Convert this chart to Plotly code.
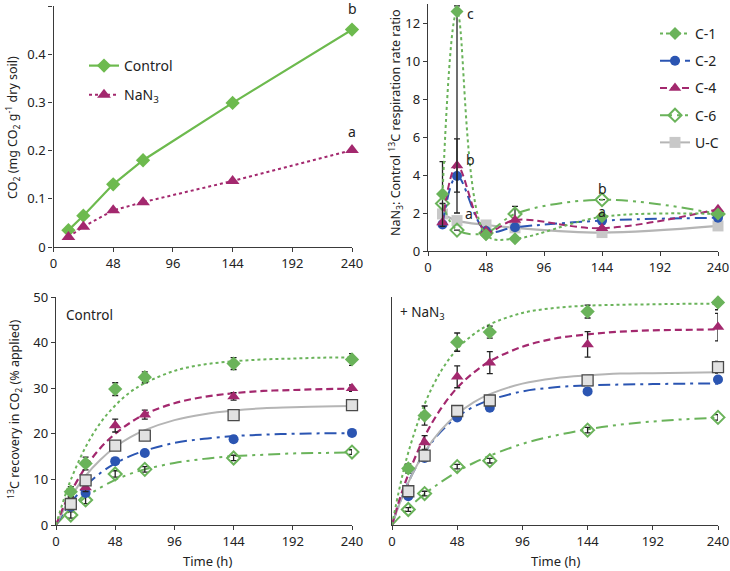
import plotly.graph_objects as go

# ---------------- data ----------------
t = [12, 24, 48, 72, 144, 240]

# top-left: cumulative CO2 (mg CO2 g-1 dry soil)
co2_control = [0.035, 0.065, 0.130, 0.180, 0.299, 0.451]
co2_nan3 = [0.021, 0.042, 0.076, 0.093, 0.137, 0.201]

# top-right: NaN3 : Control 13C respiration rate ratio
ratio_c1 = [3.0, 12.6, 0.85, 0.65, 1.8, 1.95]
ratio_c2 = [1.4, 3.95, 1.05, 1.25, 1.6, 1.75]
ratio_c4 = [1.5, 4.5, 1.05, 1.63, 1.2, 2.2]
ratio_c6 = [2.5, 1.1, 0.95, 1.95, 2.7, 1.95]
ratio_uc = [1.95, 1.6, 1.37, 1.22, 0.97, 1.32]
ratio_c1_err_plus = [1.7, 0.3, 0, 0, 0, 0]
ratio_c1_err_minus = [1.7, 10.6, 0, 0, 0, 0]
ratio_c4_err = [0, 1.4, 0, 0, 0, 0]
ratio_c6_err = [0, 0, 0, 0.4, 0, 0]

# bottom-left: 13C recovery in CO2, Control
ctl_c1 = [7.3, 13.5, 29.8, 32.4, 35.4, 36.3]
ctl_c2 = [4.0, 7.0, 14.0, 15.8, 18.8, 20.2]
ctl_c4 = [5.5, 8.2, 21.8, 24.2, 28.2, 30.0]
ctl_c6 = [2.2, 5.5, 11.2, 12.2, 14.7, 16.0]
ctl_uc = [4.6, 9.8, 17.4, 19.6, 24.1, 26.3]
ctl_c1_err = [1.1, 1.4, 1.4, 1.2, 1.3, 1.3]
ctl_c2_err = [0.5, 0.6, 0.5, 0.5, 0.6, 0.6]
ctl_c4_err = [0.6, 0.9, 1.4, 1.0, 0.8, 0.7]
ctl_c6_err = [0.7, 0.8, 0.7, 0.6, 0.6, 0.5]
ctl_uc_err = [0.5, 0.6, 0.6, 0.6, 0.6, 0.6]

# bottom-right: 13C recovery in CO2, + NaN3
nan_c1 = [12.4, 24.0, 40.1, 42.3, 46.8, 48.8]
nan_c2 = [6.3, 14.7, 23.6, 25.7, 29.3, 31.9]
nan_c4 = [7.8, 18.1, 32.5, 35.6, 39.6, 43.4]
nan_c6 = [3.4, 6.9, 12.8, 14.1, 20.8, 23.6]
nan_uc = [7.4, 15.2, 25.0, 27.3, 31.7, 34.6]
nan_c1_err = [1.0, 2.1, 2.0, 1.3, 1.4, 1.6]
nan_c2_err = [0.5, 0.6, 0.6, 0.6, 0.5, 0.6]
nan_c4_err = [0.8, 1.5, 2.4, 2.4, 2.8, 3.0]
nan_c6_err = [0.4, 0.5, 0.5, 0.5, 0.6, 0.6]
nan_uc_err = [0.6, 0.8, 1.0, 0.9, 0.9, 1.3]

# fitted curves
tf = [0, 6, 12, 24, 36, 48, 60, 72, 96, 120, 144, 168, 192, 216, 240]
fit_ctl_c1 = [0, 5.3, 9.9, 17.1, 22.4, 26.2, 29.1, 31.1, 33.8, 35.2, 35.9, 36.3, 36.5, 36.7, 36.7]
fit_ctl_c4 = [0, 3.9, 7.2, 12.7, 16.9, 20.0, 22.4, 24.3, 26.7, 28.1, 28.9, 29.4, 29.6, 29.8, 29.9]
fit_ctl_uc = [0, 3.2, 6.1, 10.8, 14.3, 17.1, 19.2, 20.8, 23.0, 24.3, 25.1, 25.6, 25.8, 26.0, 26.1]
fit_ctl_c2 = [0, 2.6, 4.9, 8.6, 11.4, 13.5, 15.1, 16.3, 18.0, 18.9, 19.5, 19.8, 20.0, 20.1, 20.1]
fit_ctl_c6 = [0, 1.8, 3.4, 6.1, 8.2, 9.9, 11.2, 12.2, 13.6, 14.5, 15.1, 15.4, 15.7, 15.8, 15.9]
fit_nan_c1 = [0, 8.7, 15.9, 26.5, 33.7, 38.6, 41.8, 44.0, 46.5, 47.6, 48.1, 48.3, 48.4, 48.5, 48.5]
fit_nan_c4 = [0, 6.0, 11.1, 19.4, 25.5, 30.1, 33.4, 35.9, 39.1, 40.9, 41.8, 42.4, 42.7, 42.8, 42.9]
fit_nan_uc = [0, 5.0, 9.3, 16.0, 20.8, 24.3, 26.9, 28.7, 31.0, 32.2, 32.8, 33.2, 33.3, 33.4, 33.5]
fit_nan_c2 = [0, 5.1, 9.4, 15.9, 20.5, 23.7, 25.9, 27.4, 29.3, 30.2, 30.6, 30.8, 30.9, 31.0, 31.0]
fit_nan_c6 = [0, 1.9, 3.7, 6.8, 9.4, 11.7, 13.6, 15.2, 17.8, 19.6, 21.0, 22.0, 22.7, 23.2, 23.5]

xticks = [0, 48, 96, 144, 192, 240]

# ---------------- styles ----------------
GREEN = "#6AB35A"
GREEN_TL = "#6DBA4E"
BLUE = "#2B55B2"
MAGENTA = "#A3286E"
GRAY = "#B5B5B5"
AXC = "#3a3a3a"
FONT = "Noto Sans"

DASH_C1 = "dot"
DASH_C2 = "12px,5px,3px,5px"
DASH_C4 = "7px,4px"
DASH_C6 = "12px,5px,3px,5px,3px,5px"

fig = go.Figure()

# ---- top-left ----
fig.add_trace(go.Scatter(
    x=t, y=co2_control, name="Control", mode="lines+markers",
    line=dict(color=GREEN_TL, width=2.2),
    marker=dict(symbol="diamond", size=11, color=GREEN_TL),
    xaxis="x", yaxis="y", legend="legend", legendgroup="a", cliponaxis=False))
fig.add_trace(go.Scatter(
    x=t, y=co2_nan3, name="NaN<sub>3</sub>", mode="lines+markers",
    line=dict(color=MAGENTA, width=2, dash="dot"),
    marker=dict(symbol="triangle-up", size=12, color=MAGENTA),
    xaxis="x", yaxis="y", legend="legend", legendgroup="b", cliponaxis=False))

# ---- top-right ----
def err(a, am=None):
    d = dict(type="data", array=a, visible=True, color="#222", thickness=1.3, width=3)
    if am is not None:
        d["arrayminus"] = am
        d["symmetric"] = False
    return d

fig.add_trace(go.Scatter(
    x=t, y=ratio_uc, name="U-C", mode="lines+markers", line_shape="spline",
    line=dict(color=GRAY, width=2.2),
    marker=dict(symbol="square", size=11, color="#C8C8C8"),
    xaxis="x2", yaxis="y2", showlegend=False, cliponaxis=False))
fig.add_trace(go.Scatter(
    x=t, y=ratio_c6, name="C-6", mode="lines+markers", line_shape="spline",
    line=dict(color=GREEN, width=2, dash=DASH_C6),
    marker=dict(symbol="diamond-open", size=10, color=GREEN, line=dict(width=2)),
    error_y=err(ratio_c6_err),
    xaxis="x2", yaxis="y2", showlegend=False, cliponaxis=False))
fig.add_trace(go.Scatter(
    x=t, y=ratio_c2, name="C-2", mode="lines+markers", line_shape="spline",
    line=dict(color=BLUE, width=2, dash=DASH_C2),
    marker=dict(symbol="circle", size=10, color=BLUE),
    xaxis="x2", yaxis="y2", showlegend=False, cliponaxis=False))
fig.add_trace(go.Scatter(
    x=t, y=ratio_c4, name="C-4", mode="lines+markers", line_shape="spline",
    line=dict(color=MAGENTA, width=2, dash=DASH_C4),
    marker=dict(symbol="triangle-up", size=11, color=MAGENTA),
    error_y=err(ratio_c4_err),
    xaxis="x2", yaxis="y2", showlegend=False, cliponaxis=False))
fig.add_trace(go.Scatter(
    x=t, y=ratio_c1, name="C-1", mode="lines+markers", line_shape="spline",
    line=dict(color=GREEN, width=2, dash=DASH_C1),
    marker=dict(symbol="diamond", size=10, color=GREEN),
    error_y=err(ratio_c1_err_plus, ratio_c1_err_minus),
    xaxis="x2", yaxis="y2", showlegend=False, cliponaxis=False))

# legend entries for the top-right panel (same styles, in legend order)
leg_items = [
    ("C-1", GREEN, DASH_C1, dict(symbol="diamond", size=10, color=GREEN)),
    ("C-2", BLUE, DASH_C2, dict(symbol="circle", size=10, color=BLUE)),
    ("C-4", MAGENTA, DASH_C4, dict(symbol="triangle-up", size=11, color=MAGENTA)),
    ("C-6", GREEN, DASH_C6, dict(symbol="diamond-open", size=10, color=GREEN, line=dict(width=2))),
    ("U-C", GRAY, "solid", dict(symbol="square", size=11, color="#C8C8C8")),
]
for i, (nm, col, dsh, mk) in enumerate(leg_items):
    fig.add_trace(go.Scatter(
        x=[None], y=[None], name=nm, mode="lines+markers",
        line=dict(color=col, width=2, dash=dsh), marker=mk,
        xaxis="x2", yaxis="y2", legend="legend2", legendgroup="g%d" % i))

# ---- bottom panels ----
def recovery(xa, ya, fits, pts):
    for fy, col, dsh, w in fits:
        fig.add_trace(go.Scatter(
            x=tf, y=fy, mode="lines", line_shape="spline",
            line=dict(color=col, width=w, dash=dsh),
            xaxis=xa, yaxis=ya, showlegend=False, hoverinfo="skip"))
    for py, pe, mk in pts:
        fig.add_trace(go.Scatter(
            x=t, y=py, mode="markers", marker=mk, error_y=err(pe),
            xaxis=xa, yaxis=ya, showlegend=False, cliponaxis=False))

mk_c1 = dict(symbol="diamond", size=11, color=GREEN)
mk_c2 = dict(symbol="circle", size=10, color=BLUE)
mk_c4 = dict(symbol="triangle-up", size=11, color=MAGENTA)
mk_c6 = dict(symbol="diamond-open", size=10, color=GREEN, line=dict(width=2))
mk_uc = dict(symbol="square", size=11, color="#E2E2E2", line=dict(color="#4a4a4a", width=1.3))

recovery("x3", "y3",
         [(fit_ctl_c6, GREEN, DASH_C6, 2), (fit_ctl_c2, BLUE, DASH_C2, 2),
          (fit_ctl_uc, GRAY, "solid", 2), (fit_ctl_c4, MAGENTA, DASH_C4, 2.2),
          (fit_ctl_c1, GREEN, DASH_C1, 2)],
         [(ctl_c6, ctl_c6_err, mk_c6), (ctl_c2, ctl_c2_err, mk_c2),
          (ctl_c4, ctl_c4_err, mk_c4), (ctl_c1, ctl_c1_err, mk_c1),
          (ctl_uc, ctl_uc_err, mk_uc)])
recovery("x4", "y4",
         [(fit_nan_c6, GREEN, DASH_C6, 2), (fit_nan_c2, BLUE, DASH_C2, 2),
          (fit_nan_uc, GRAY, "solid", 2), (fit_nan_c4, MAGENTA, DASH_C4, 2.2),
          (fit_nan_c1, GREEN, DASH_C1, 2)],
         [(nan_c6, nan_c6_err, mk_c6), (nan_c2, nan_c2_err, mk_c2),
          (nan_c4, nan_c4_err, mk_c4), (nan_c1, nan_c1_err, mk_c1),
          (nan_uc, nan_uc_err, mk_uc)])

# ---------------- layout ----------------
W, H = 730, 571

def px_x(a, b):
    return [a / W, b / W]

def px_y(top, bottom):
    return [1 - bottom / H, 1 - top / H]

axbase = dict(showline=True, linecolor=AXC, linewidth=1.4, ticks="outside",
              ticklen=4, tickcolor=AXC, tickwidth=1.2, showgrid=False,
              zeroline=False, tickfont=dict(size=13, color="#222", family=FONT),
              automargin=False)

fig.update_layout(
    width=W, height=H, margin=dict(l=0, r=0, t=0, b=0),
    paper_bgcolor="white", plot_bgcolor="white",
    font=dict(family=FONT, size=13, color="#222"),
    xaxis=dict(axbase, domain=px_x(53.5, 352), range=[0, 240], tickvals=xticks, anchor="y"),
    yaxis=dict(axbase, domain=px_y(6, 247), range=[0, 0.5], dtick=0.1, anchor="x"),
    xaxis2=dict(axbase, domain=px_x(428, 718), range=[0, 240], tickvals=xticks, anchor="y2"),
    yaxis2=dict(axbase, domain=px_y(4, 251), range=[0, 13], tickvals=[0, 2, 4, 6, 8, 10, 12], anchor="x2"),
    xaxis3=dict(axbase, domain=px_x(56, 352), range=[0, 240], tickvals=xticks, anchor="y3"),
    yaxis3=dict(axbase, domain=px_y(297, 525), range=[0, 50], dtick=10, anchor="x3"),
    xaxis4=dict(axbase, domain=px_x(392, 718), range=[0, 240], tickvals=xticks, anchor="y4"),
    yaxis4=dict(axbase, domain=px_y(297, 525), range=[0, 50], ticks="", showticklabels=False, anchor="x4"),
    legend=dict(x=84 / W, y=1 - 50 / H, xanchor="left", yanchor="top",
                bgcolor="rgba(0,0,0,0)", font=dict(size=14, family=FONT),
                tracegroupgap=8, traceorder="grouped"),
    legend2=dict(x=655 / W, y=1 - 18 / H, xanchor="left", yanchor="top",
                 bgcolor="rgba(0,0,0,0)", font=dict(size=14, family=FONT),
                 tracegroupgap=6, traceorder="grouped"),
    showlegend=True,
)

ann = []
def A(text, x, y, xref="paper", yref="paper", size=13, angle=0, xanchor="center", yanchor="middle"):
    if xref == "paper":
        x = x / W
    if yref == "paper":
        y = 1 - y / H
    ann.append(dict(text=text, x=x, y=y, xref=xref, yref=yref, showarrow=False,
                    textangle=angle, xanchor=xanchor, yanchor=yanchor,
                    font=dict(size=size, family=FONT, color="#222")))

A("CO<sub>2</sub> (mg CO<sub>2</sub> g<sup>-1</sup> dry soil)", 13, 128, angle=-90, size=12.5)
A("NaN<sub>3</sub>: Control <sup>13</sup>C respiration rate ratio", 396, 123, angle=-90, size=12.5)
A("<sup>13</sup>C recovery in CO<sub>2</sub> (% applied)", 15, 410, angle=-90, size=12.5)
A("Time (h)", 207, 561, size=13)
A("Time (h)", 555, 561, size=13)
A("Control", 64, 315, xanchor="left", size=13.5)
A("+ NaN<sub>3</sub>", 398, 313, xanchor="left", size=13.5)
# significance letters
A("b", 240, 0.494, xref="x", yref="y", size=14)
A("a", 240, 0.240, xref="x", yref="y", size=14)
A("c", 35, 12.5, xref="x2", yref="y2", size=14)
A("b", 35, 4.8, xref="x2", yref="y2", size=14)
A("a", 34, 2.0, xref="x2", yref="y2", size=14)
A("b", 144, 3.3, xref="x2", yref="y2", size=14)
A("a", 144, 2.1, xref="x2", yref="y2", size=14)
fig.update_layout(annotations=ann)

# remove the default 8px page margin so the figure fills the window exactly
fig.write_html("out.html", config={"displayModeBar": False},
               post_script="document.body.style.margin='0';document.body.style.overflow='hidden';")
